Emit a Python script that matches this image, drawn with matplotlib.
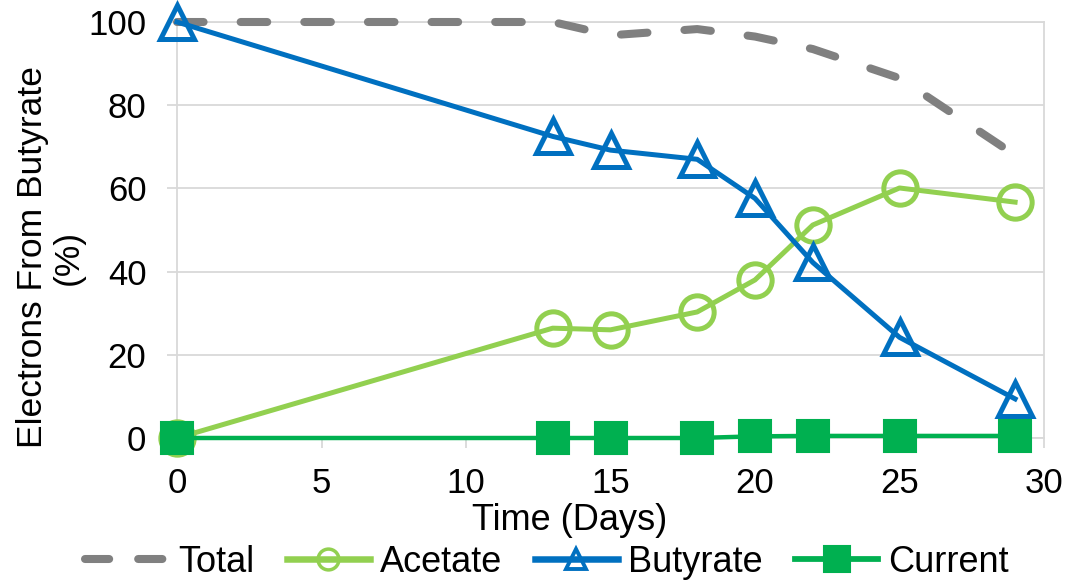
import matplotlib
matplotlib.use("Agg")
import matplotlib.pyplot as plt

plt.rcParams['font.family'] = ['Liberation Sans', 'DejaVu Sans']

days = [0, 13, 15, 18, 20, 22, 25, 29]
total = [100, 100, 96.8, 98.3, 96.5, 93.5, 86.5, 68.0]
acetate = [0, 26.4, 26.0, 30.3, 38.0, 51.2, 60.1, 56.7]
butyrate = [100, 72.5, 69.2, 67.0, 57.6, 42.2, 24.2, 9.4]
current = [0, 0, 0, 0, 0.4, 0.5, 0.5, 0.5]

grid_col = '#d9d9d9'

fig = plt.figure(figsize=(10.71, 5.82), dpi=100)
ax = fig.add_axes([177 / 1071, 1 - 438 / 582, 867 / 1071, 416 / 582])

ax.plot(days, total, color='#808080', lw=5.8, dashes=(3.3, 4.6),
        dash_capstyle='round', label='Total', clip_on=False, zorder=3)
ax.plot(days, acetate, color='#92d050', lw=3.6, marker='o', ms=24,
        mfc='none', mew=3.6, label='Acetate', clip_on=False, zorder=4)
ax.plot(days, butyrate, color='#0070c0', lw=3.6, marker='^', ms=25,
        mfc='none', mew=3.6, label='Butyrate', clip_on=False, zorder=5)
ax.plot(days, current, color='#00b050', lw=3.2, marker='s', ms=23.5,
        mew=1.5, label='Current', clip_on=False, zorder=6)

ax.set_xlim(0, 30)
ax.set_ylim(0, 100)
ax.set_xticks(range(0, 31, 5))
ax.set_yticks(range(0, 101, 20))
ax.grid(axis='y', color=grid_col, lw=1.3, zorder=0)
ax.set_axisbelow(True)
for s in ax.spines.values():
    s.set_color(grid_col)
    s.set_linewidth(1.3)
ax.tick_params(axis='both', labelsize=25, color=grid_col, width=1.3,
               length=7)
ax.tick_params(axis='x', pad=14)
ax.tick_params(axis='y', pad=15)

fig.text(50 / 1071, 1 - 257 / 582, 'Electrons From Butyrate\n(%)',
         rotation=90, ha='center', va='center', fontsize=25.5,
         linespacing=1.1)
fig.text(570 / 1071, 1 - 520 / 582, 'Time (Days)', ha='center',
         va='center', fontsize=26)

leg = fig.legend(loc='center', bbox_to_anchor=(547 / 1071, 1 - 562 / 582),
                 ncol=4, frameon=False, fontsize=26, handlelength=2.3,
                 handletextpad=0.28, columnspacing=0.9,
                 borderaxespad=0, borderpad=0)
# legend keys: dashed key gets its own pattern, markers are smaller
handles = leg.legend_handles
handles[0].set_dashes((3.0, 3.6))
for h, size, edge in zip(handles[1:], [15, 14, 19], [2.5, 2.8, 1.5]):
    h.set_markersize(size)
    h.set_markeredgewidth(edge)
    h.set_linewidth(h.get_linewidth() * 1.3)

fig.savefig('out.png', dpi=100)
